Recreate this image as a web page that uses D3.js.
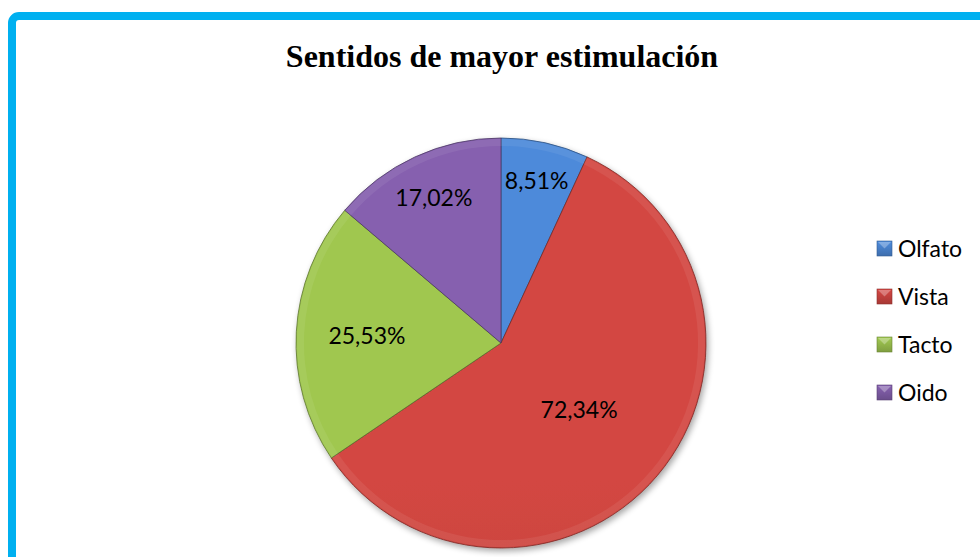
<!DOCTYPE html>
<html>
<head>
<meta charset="utf-8">
<script src="https://cdn.jsdelivr.net/npm/d3@7"></script>
<style>
  html, body { margin: 0; padding: 0; background: #fff; }
  svg { display: block; }
</style>
</head>
<body>
<svg id="chart" width="980" height="557"></svg>
<script>
// ---- data ----
const categories = ["Olfato", "Vista", "Tacto", "Oido"];
const values = [8.51, 72.34, 25.53, 17.02];
const colors = ["#4A83CF", "#C8433F", "#98BD4C", "#7F5CA6"];
const title = "Sentidos de mayor estimulación";

// ---- layout (not data) ----
const W = 980, H = 557;
const cx = 501, cy = 343, R = 205;
const labelRadius = [0.81, 0.50, 0.655, 0.78];

const svg = d3.select("#chart");
const defs = svg.append("defs");

// frame
svg.append("rect")
  .attr("x", 12).attr("y", 16)
  .attr("width", W + 40).attr("height", H + 40)
  .attr("rx", 7)
  .attr("fill", "none")
  .attr("stroke", "#00B0F0")
  .attr("stroke-width", 8);

// title
svg.append("text")
  .attr("x", 502).attr("y", 67)
  .attr("text-anchor", "middle")
  .attr("font-family", "'Liberation Serif', 'Times New Roman', serif")
  .attr("font-weight", "bold")
  .attr("font-size", 32)
  .attr("fill", "#000")
  .text(title);

// gradients
colors.forEach((c, i) => {
  const g = defs.append("linearGradient")
    .attr("id", "grad" + i)
    .attr("gradientUnits", "userSpaceOnUse")
    .attr("x1", 0).attr("y1", cy - R).attr("x2", 0).attr("y2", cy + R);
  g.append("stop").attr("offset", "0%").attr("stop-color", d3.color(c).brighter(0.15));
  g.append("stop").attr("offset", "100%").attr("stop-color", d3.color(c).darker(0.3));
  const lg = defs.append("linearGradient")
    .attr("id", "lgrad" + i)
    .attr("x1", 0).attr("y1", 0).attr("x2", 0).attr("y2", 1);
  lg.append("stop").attr("offset", "0%").attr("stop-color", d3.color(c).brighter(0.2));
  lg.append("stop").attr("offset", "100%").attr("stop-color", d3.color(c).darker(0.5));
});

const shadow = defs.append("filter").attr("id", "shadow")
  .attr("x", "-10%").attr("y", "-10%").attr("width", "130%").attr("height", "130%");
shadow.append("feGaussianBlur").attr("in", "SourceAlpha").attr("stdDeviation", 3).attr("result", "b");
shadow.append("feOffset").attr("in", "b").attr("dx", 2).attr("dy", 3).attr("result", "o");
shadow.append("feComponentTransfer").attr("in", "o").attr("result", "s")
  .append("feFuncA").attr("type", "linear").attr("slope", 0.35);
const merge = shadow.append("feMerge");
merge.append("feMergeNode").attr("in", "s");
merge.append("feMergeNode").attr("in", "SourceGraphic");

const pie = d3.pie().sort(null).value(d => d.value);
const arcs = pie(categories.map((c, i) => ({ name: c, value: values[i], i })));

const arc = d3.arc().innerRadius(0).outerRadius(R);
const bevelOuter = d3.arc().innerRadius(R - 8).outerRadius(R - 1);

const gPie = svg.append("g").attr("transform", `translate(${cx},${cy})`);
const gSlices = gPie.append("g").attr("filter", "url(#shadow)");

gSlices.selectAll("path.slice")
  .data(arcs)
  .enter().append("path")
  .attr("class", "slice")
  .attr("d", arc)
  .attr("fill", d => `url(#grad${d.data.i})`)
  .attr("stroke", d => d3.color(colors[d.data.i]).darker(1.4))
  .attr("stroke-width", 0.8);

// bevel rim highlight
gPie.selectAll("path.bevel")
  .data(arcs)
  .enter().append("path")
  .attr("class", "bevel")
  .attr("d", bevelOuter)
  .attr("fill", "#fff")
  .attr("fill-opacity", 0.07)
  .attr("stroke", "none");

// labels
const fmt = v => d3.format(".2f")(v).replace(".", ",") + "%";
gPie.selectAll("text.lbl")
  .data(arcs)
  .enter().append("text")
  .attr("class", "lbl")
  .attr("transform", d => {
    const a = (d.startAngle + d.endAngle) / 2;
    const r = R * labelRadius[d.data.i];
    return `translate(${Math.sin(a) * r},${-Math.cos(a) * r})`;
  })
  .attr("text-anchor", "middle")
  .attr("dy", "0.36em")
  .attr("font-family", "Lato, 'Noto Sans', sans-serif")
  .attr("font-size", 23)
  .attr("fill", "#000")
  .text(d => fmt(d.data.value));

// legend
const legend = svg.append("g").attr("transform", "translate(877,241)");
const item = legend.selectAll("g.item")
  .data(categories)
  .enter().append("g")
  .attr("class", "item")
  .attr("transform", (d, i) => `translate(0,${i * 48})`);

item.append("rect")
  .attr("width", 15).attr("height", 15)
  .attr("fill", (d, i) => `url(#lgrad${i})`)
  .attr("stroke", (d, i) => d3.color(colors[i]).darker(1))
  .attr("stroke-width", 0.6);
item.append("path")
  .attr("d", "M1,1 L14,1 L7.5,7.5 Z")
  .attr("fill", "#fff")
  .attr("fill-opacity", 0.3);

item.append("text")
  .attr("x", 21).attr("y", 7.5)
  .attr("dy", "0.36em")
  .attr("font-family", "Lato, 'Noto Sans', sans-serif")
  .attr("font-size", 23)
  .attr("fill", "#000")
  .text(d => d);
</script>
</body>
</html>
